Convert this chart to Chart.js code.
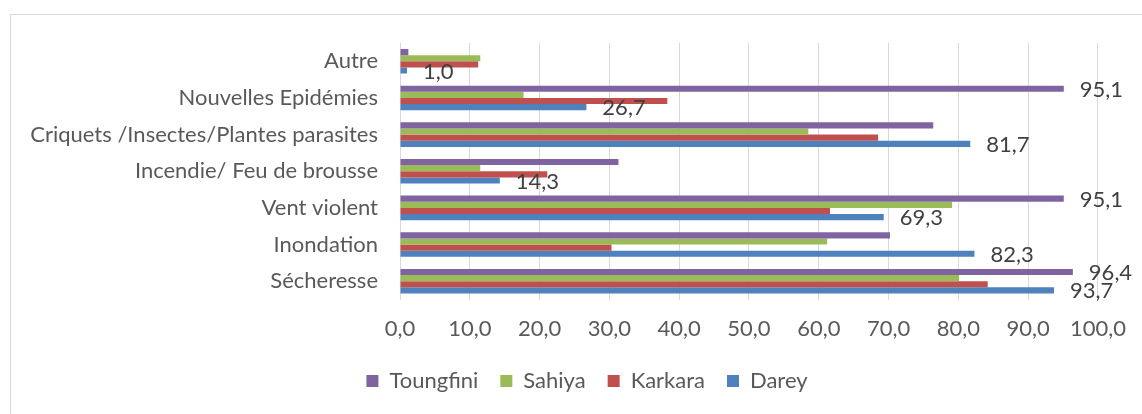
<!DOCTYPE html>
<html>
<head>
<meta charset="utf-8">
<script src="https://cdn.jsdelivr.net/npm/chart.js@4"></script>
<style>
  body { margin: 0; background: #fff; }
  #frame { position: absolute; left: 10px; top: 14px; width: 1200px; height: 500px; border: 1px solid #d9d9d9; }
  #myChart { position: absolute; left: 0; top: 0; }
</style>
</head>
<body>
<div id="frame"></div>
<canvas id="myChart" width="1142" height="414"></canvas>
<script>
const categories = ['Autre', 'Nouvelles Epidémies', 'Criquets /Insectes/Plantes parasites', 'Incendie/ Feu de brousse', 'Vent violent', 'Inondation', 'Sécheresse']
const toungfini = [1.2, 95.1, 76.4, 31.3, 95.1, 70.2, 96.4]
const sahiya = [11.5, 17.7, 58.5, 11.5, 79.1, 61.2, 80.1]
const karkara = [11.2, 38.3, 68.5, 21.1, 61.6, 30.3, 84.2]
const darey = [1.0, 26.7, 81.7, 14.3, 69.3, 82.3, 93.7]
// which values carry a label in the picture
const toungfiniLabelShown = [false, true, false, false, true, false, true]
const dareyLabelShown = [true, true, true, true, true, true, true]

const fontFamily = 'Lato, "Open Sans", sans-serif'
const textColor = '#595959'

function fmt(v) {
    return v.toFixed(1).replace('.', ',')
}

const valueLabels = {
    id: 'valueLabels',
    afterDatasetsDraw(chart) {
        const c = chart.ctx
        c.save()
        c.font = '22px ' + fontFamily
        c.fillStyle = '#404040'
        c.textAlign = 'left'
        c.textBaseline = 'middle'
        chart.data.datasets.forEach((ds, i) => {
            const shown = ds.labelShown
            if (!shown) return
            chart.getDatasetMeta(i).data.forEach((bar, j) => {
                if (!shown[j]) return
                c.fillText(fmt(ds.data[j]), bar.x + 16, bar.y + 1)
            })
        })
        c.restore()
    }
}

// legend sits a bit right of the canvas centre in the original
const legendShift = {
    id: 'legendShift',
    afterLayout(chart) {
        chart.legend.left += 37
        chart.legend.right += 37
    }
}

const ctx = document.getElementById('myChart').getContext('2d')
const myChart = new Chart(ctx, {
    type: 'bar',
    data: {
        labels: categories,
        datasets: [
            { label: 'Toungfini', data: toungfini, backgroundColor: '#8064A2', labelShown: toungfiniLabelShown },
            { label: 'Sahiya', data: sahiya, backgroundColor: '#9BBB59' },
            { label: 'Karkara', data: karkara, backgroundColor: '#C0504D' },
            { label: 'Darey', data: darey, backgroundColor: '#4F81BD', labelShown: dareyLabelShown }
        ]
    },
    options: {
        indexAxis: 'y',
        responsive: false,
        animation: false,
        categoryPercentage: 0.67,
        barPercentage: 1,
        layout: { padding: { top: 43, right: 42, left: 0, bottom: 12 } },
        scales: {
            x: {
                min: 0,
                max: 100,
                ticks: {
                    stepSize: 10,
                    padding: 16,
                    color: textColor,
                    font: { family: fontFamily, size: 22 },
                    callback: v => fmt(v)
                },
                grid: { color: '#d9d9d9', drawTicks: false },
                border: { display: false },
                afterFit: s => { s.height = 48.5 }
            },
            y: {
                ticks: {
                    padding: 22,
                    color: textColor,
                    font: { family: fontFamily, size: 22 }
                },
                grid: { display: false, drawTicks: false },
                border: { color: '#d9d9d9' },
                afterFit: s => { s.width = 400 }
            }
        },
        plugins: {
            legend: {
                position: 'bottom',
                labels: {
                    boxWidth: 12,
                    boxHeight: 12,
                    padding: 22,
                    color: textColor,
                    font: { family: fontFamily, size: 22 }
                }
            },
            tooltip: { enabled: false }
        }
    },
    plugins: [valueLabels, legendShift]
})
</script>
</body>
</html>
